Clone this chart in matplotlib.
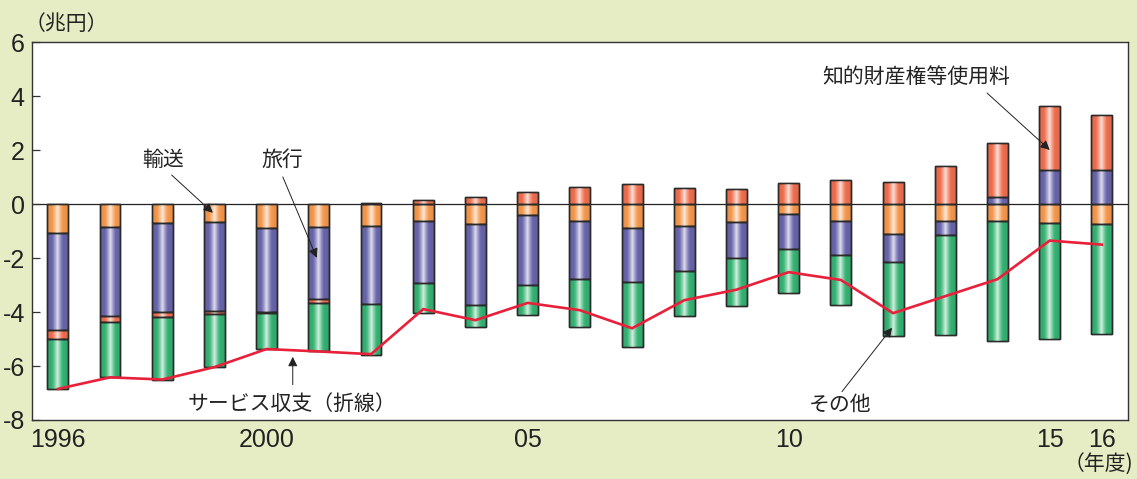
import numpy as np
import matplotlib
matplotlib.use("Agg")
import matplotlib.pyplot as plt

plt.rcParams['font.family'] = ['Liberation Sans', 'Noto Sans CJK JP', 'DejaVu Sans']

# 年度, 兆円
years = list(range(1996, 2017))
xlabels = {1996: "1996", 2000: "2000", 2005: "05", 2010: "10", 2015: "15", 2016: "16"}

transport = [-1.07, -0.83, -0.68, -0.67, -0.89, -0.83, -0.80, -0.61, -0.74, -0.41, -0.63,
             -0.89, -0.81, -0.66, -0.37, -0.63, -1.11, -0.61, -0.63, -0.68, -0.72]
travel = [-3.59, -3.33, -3.30, -3.28, -3.10, -2.69, -2.89, -2.33, -2.99, -2.58, -2.15,
          -1.98, -1.65, -1.34, -1.30, -1.26, -1.03, -0.54, 0.26, 1.26, 1.27]
ip_fees = [-0.34, -0.21, -0.21, -0.12, -0.03, -0.15, 0.03, 0.15, 0.25, 0.44, 0.62,
           0.73, 0.59, 0.58, 0.78, 0.91, 0.84, 1.43, 2.02, 2.39, 2.03]
other = [-1.85, -2.05, -2.34, -1.97, -1.35, -1.79, -1.90, -1.10, -0.83, -1.12, -1.76,
         -2.44, -1.69, -1.76, -1.63, -1.84, -2.74, -3.69, -4.43, -4.33, -4.08]
services = [-6.85, -6.42, -6.50, -6.04, -5.37, -5.46, -5.56, -3.89, -4.30, -3.66, -3.93,
            -4.60, -3.56, -3.17, -2.52, -2.81, -4.04, -3.41, -2.78, -1.35, -1.50]

series = [transport, travel, ip_fees, other]
colors = ['#f89a4e', '#6a66ad', '#f2704f', '#36b574']

bg = '#e6edc4'
fig = plt.figure(figsize=(11.37, 4.79), dpi=100, facecolor=bg)
ax = fig.add_axes([0.0279, 0.1232, 0.9642, 0.7885])
ax.set_facecolor('white')

x = np.arange(len(years))
width = 0.40

# narrow white highlight plus darker sides on each bar segment
prof = np.linspace(0, 1, 80)
sheen = np.clip(1 - np.abs(prof - 0.5) / 0.28, 0, 1) ** 1.4 * 0.8
shade = np.abs(prof - 0.5) ** 2 * 0.35

pos = np.zeros(len(x))
neg = np.zeros(len(x))
for vals, col in zip(series, colors):
    vals = np.array(vals)
    bottom = np.where(vals >= 0, pos, neg)
    bars = ax.bar(x, vals, width, bottom=bottom, color=col, edgecolor='#2a2a2a',
                  linewidth=1.0, zorder=2)
    for b in bars:
        x0, y0 = b.get_x(), b.get_y()
        w, h = b.get_width(), b.get_height()
        if abs(h) < 1e-6:
            continue
        ext = [x0, x0 + w, min(y0, y0 + h), max(y0, y0 + h)]
        dark = np.zeros((2, 80, 4))
        dark[..., 3] = shade
        im2 = ax.imshow(dark, extent=ext, aspect='auto', zorder=2.05, interpolation='bilinear')
        im2.set_clip_path(b)
        img = np.ones((2, 80, 4))
        img[..., 3] = sheen
        im = ax.imshow(img, extent=ext, aspect='auto', zorder=2.1, interpolation='bilinear')
        im.set_clip_path(b)
        ax.add_patch(plt.Rectangle((x0, y0), w, h, fill=False, edgecolor='#2a2a2a',
                                   linewidth=1.0, zorder=2.2))
    pos = np.where(vals >= 0, pos + vals, pos)
    neg = np.where(vals < 0, neg + vals, neg)

ax.axhline(0, color='#222222', lw=0.9, zorder=1.5)
ax.plot(x, services, color='#e8203a', lw=1.9, zorder=3, solid_joinstyle='miter')

ax.set_xlim(-0.5, 20.5)
ax.set_ylim(-8, 6)
ax.set_yticks(range(-8, 7, 2))
ax.set_yticklabels([str(v) for v in range(-8, 7, 2)], fontsize=18, color='#222222')
ax.tick_params(axis='y', direction='in', length=6, width=0.9, pad=5, color='#333333')
ax.set_xticks([years.index(y) for y in xlabels])
ax.set_xticklabels(list(xlabels.values()), fontsize=18, color='#222222')
ax.tick_params(axis='x', length=0, pad=6)
for s in ax.spines.values():
    s.set_color('#333333')
    s.set_linewidth(1.0)

jp = dict(family=['Noto Sans CJK JP', 'DejaVu Sans'], fontsize=15, color='#222222',
          ha='center', va='center')
arrow = dict(arrowstyle='-|>', color='#222222', lw=0.7, mutation_scale=14,
             shrinkA=0, shrinkB=0)

ax.text(2.01, 1.64, "輸送", **jp)
ax.annotate("", xy=(2.97, -0.32), xytext=(2.18, 1.08), arrowprops=arrow)
ax.text(4.29, 1.64, "旅行", **jp)
ax.annotate("", xy=(4.96, -1.99), xytext=(4.31, 1.01), arrowprops=arrow)
ax.text(4.48, -7.40, "サービス収支（折線）", **jp)
ax.annotate("", xy=(4.5, -5.66), xytext=(4.5, -6.69), arrowprops=arrow)
ax.text(14.98, -7.43, "その他", **jp)
ax.annotate("", xy=(15.98, -4.58), xytext=(15.02, -6.95), arrowprops=arrow)
ax.text(16.44, 4.71, "知的財産権等使用料", **jp)
ax.annotate("", xy=(19.0, 2.01), xytext=(17.8, 4.12), arrowprops=arrow)

fig.text(66 / 1137, 1 - 24 / 479, "（兆円）", **jp)
fig.text(1133 / 1137, 1 - 465 / 479, "（年度)", **{**jp, 'ha': 'right'})

fig.savefig("out.png", dpi=100, facecolor=bg)
